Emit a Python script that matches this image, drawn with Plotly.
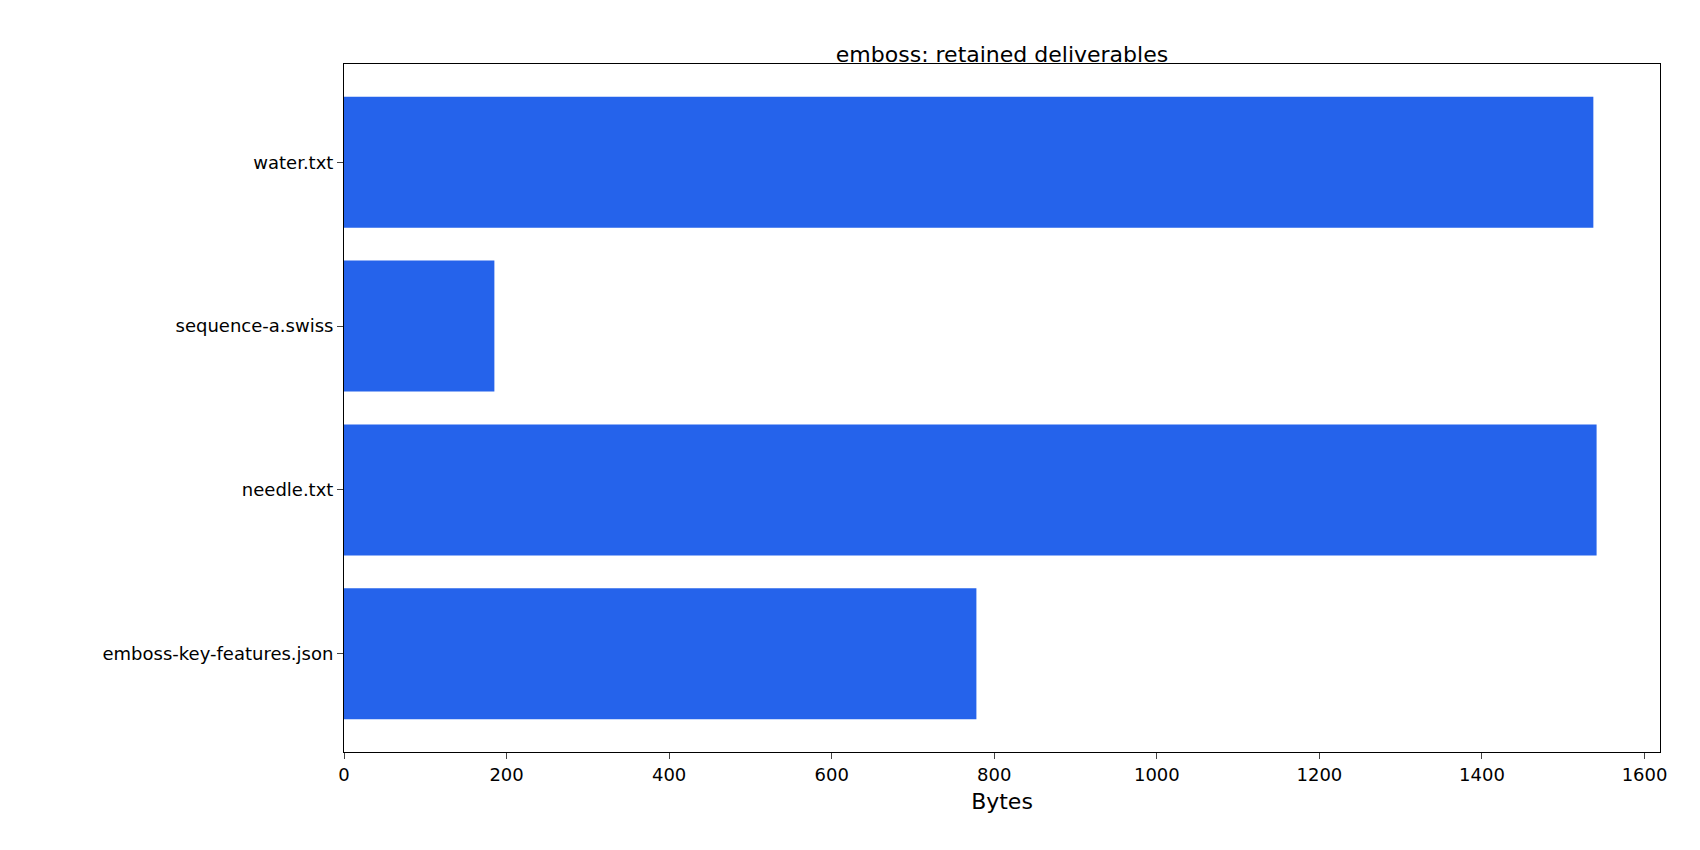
import plotly.graph_objects as go

files = ["emboss-key-features.json", "needle.txt", "sequence-a.swiss", "water.txt"]
sizes = [778, 1541, 185, 1537]

fig = go.Figure(go.Bar(
    x=sizes, y=files, orientation="h", width=0.8,
    marker=dict(color="#2563eb", line=dict(width=0)),
))
fig.update_layout(
    width=1700, height=850, plot_bgcolor="white", paper_bgcolor="white",
    margin=dict(l=336, r=48, t=56, b=106),
    title=dict(text="emboss: retained deliverables", x=0.5, xref="paper", xanchor="center",
               y=0.955, font=dict(family="DejaVu Sans", size=22, color="black")),
    font=dict(family="DejaVu Sans", size=18, color="black"),
    bargap=0.2, showlegend=False,
)
fig.update_xaxes(range=[0, 1619], tickvals=list(range(0, 1601, 200)), showgrid=False,
                 showline=True, linecolor="black", mirror=True, ticks="outside",
                 ticklen=6, zeroline=False, title=dict(text="Bytes", standoff=10))
fig.update_yaxes(range=[-0.6, 3.6], showgrid=False, showline=True, linecolor="black",
                 mirror=True, ticks="outside", ticklen=6, categoryorder="array",
                 categoryarray=files)
fig.write_html("out.html")
